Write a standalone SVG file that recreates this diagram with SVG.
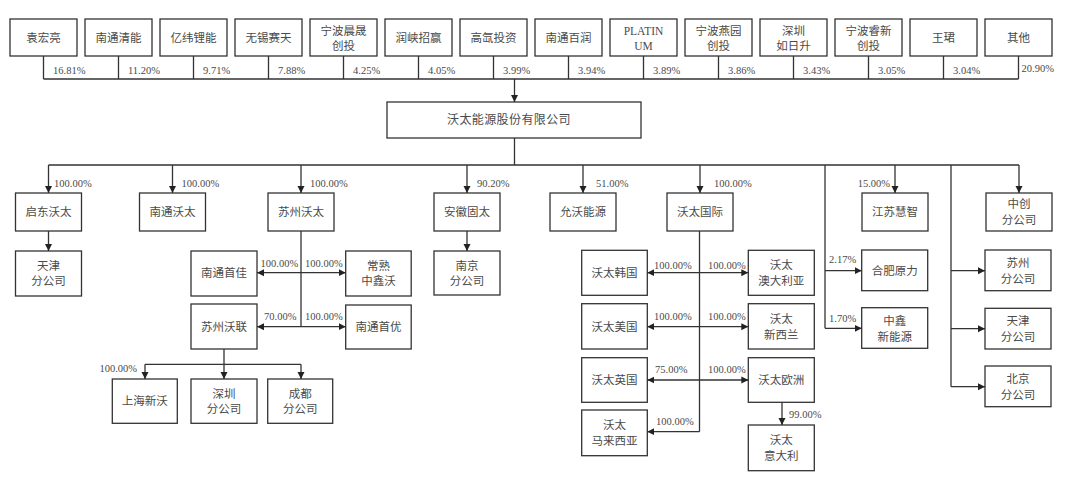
<svg xmlns="http://www.w3.org/2000/svg" width="1080" height="485" viewBox="0 0 1080 485">
<style>
.b{fill:#fff;stroke:#333;stroke-width:1.3}
.t{font-family:"Liberation Serif","Noto Sans CJK SC",serif;font-size:11.5px;fill:#4a4a4a;text-anchor:middle;dominant-baseline:central}
.p{font-family:"Liberation Serif","Noto Sans CJK SC",serif;font-size:10.5px;fill:#4a4a4a;dominant-baseline:central}
.l{fill:none;stroke:#333;stroke-width:1.3}
.a{marker-end:url(#ah)}
.d{marker-end:url(#ah);marker-start:url(#ah)}
</style>
<defs>
<marker id="ah" viewBox="0 0 10 10" refX="10" refY="5" markerWidth="7" markerHeight="8" orient="auto-start-reverse" markerUnits="userSpaceOnUse"><path d="M0,0 L10,5 L0,10 z" fill="#222"/></marker>
</defs>
<rect width="1080" height="485" fill="#fff"/>

<g id="shareholders">
<g id="s0"><rect class="b" x="10" y="19" width="67" height="37"/><text class="t" x="43.5" y="38">袁宏亮</text></g>
<g id="s1"><rect class="b" x="85" y="19" width="67" height="37"/><text class="t" x="118.5" y="38">南通清能</text></g>
<g id="s2"><rect class="b" x="160" y="19" width="67" height="37"/><text class="t" x="193.5" y="38">亿纬锂能</text></g>
<g id="s3"><rect class="b" x="235" y="19" width="67" height="37"/><text class="t" x="268.5" y="38">无锡赛天</text></g>
<g id="s4"><rect class="b" x="310" y="19" width="67" height="37"/><text class="t" x="343.5" y="31">宁波晨晟</text><text class="t" x="343.5" y="46">创投</text></g>
<g id="s5"><rect class="b" x="385" y="19" width="67" height="37"/><text class="t" x="418.5" y="38">润峡招赢</text></g>
<g id="s6"><rect class="b" x="460" y="19" width="67" height="37"/><text class="t" x="493.5" y="38">高氙投资</text></g>
<g id="s7"><rect class="b" x="535" y="19" width="67" height="37"/><text class="t" x="568.5" y="38">南通百润</text></g>
<g id="s8"><rect class="b" x="610" y="19" width="67" height="37"/><text class="t" x="643.5" y="31">PLATIN</text><text class="t" x="643.5" y="46">UM</text></g>
<g id="s9"><rect class="b" x="685" y="19" width="67" height="37"/><text class="t" x="718.5" y="31">宁波燕园</text><text class="t" x="718.5" y="46">创投</text></g>
<g id="s10"><rect class="b" x="760" y="19" width="67" height="37"/><text class="t" x="793.5" y="31">深圳</text><text class="t" x="793.5" y="46">如日升</text></g>
<g id="s11"><rect class="b" x="835" y="19" width="67" height="37"/><text class="t" x="868.5" y="31">宁波睿新</text><text class="t" x="868.5" y="46">创投</text></g>
<g id="s12"><rect class="b" x="910" y="19" width="67" height="37"/><text class="t" x="943.5" y="38">王珺</text></g>
<g id="s13"><rect class="b" x="985" y="19" width="67" height="37"/><text class="t" x="1018.5" y="38">其他</text></g>
</g>

<g id="main"><rect class="b" x="387" y="102" width="254" height="36"/><text class="t" x="509" y="120" style="font-size:12px;letter-spacing:0.4px">沃太能源股份有限公司</text></g>

<g id="n-qidong"><rect class="b" x="15.5" y="193" width="66" height="38"/><text class="t" x="48.5" y="212">启东沃太</text></g>
<g id="n-nantongwotai"><rect class="b" x="139.5" y="193" width="66" height="38"/><text class="t" x="172.5" y="212">南通沃太</text></g>
<g id="n-suzhouwotai"><rect class="b" x="268" y="193" width="66" height="38"/><text class="t" x="301" y="212">苏州沃太</text></g>
<g id="n-anhui"><rect class="b" x="434" y="193" width="66" height="38"/><text class="t" x="467" y="212">安徽固太</text></g>
<g id="n-yunwo"><rect class="b" x="550" y="193" width="66" height="38"/><text class="t" x="583" y="212">允沃能源</text></g>
<g id="n-intl"><rect class="b" x="667" y="193" width="66" height="38"/><text class="t" x="700" y="212">沃太国际</text></g>
<g id="n-jiangsu"><rect class="b" x="862" y="193" width="66" height="38"/><text class="t" x="895" y="212">江苏慧智</text></g>
<g id="n-zhongchuang"><rect class="b" x="986" y="193" width="66" height="38"/><text class="t" x="1019" y="204">中创</text><text class="t" x="1019" y="220">分公司</text></g>

<g id="n-tianjin1"><rect class="b" x="15.5" y="251" width="66" height="45"/><text class="t" x="48.5" y="266">天津</text><text class="t" x="48.5" y="281">分公司</text></g>
<g id="n-nantongshoujia"><rect class="b" x="191" y="251" width="66" height="45"/><text class="t" x="224" y="273">南通首佳</text></g>
<g id="n-changshu"><rect class="b" x="345.7" y="251" width="65.5" height="45"/><text class="t" x="378.5" y="266">常熟</text><text class="t" x="378.5" y="281">中鑫沃</text></g>
<g id="n-suzhouwolian"><rect class="b" x="191" y="304" width="66" height="45"/><text class="t" x="224" y="327">苏州沃联</text></g>
<g id="n-nantongshouyou"><rect class="b" x="345.7" y="305" width="65.5" height="44"/><text class="t" x="378.5" y="327">南通首优</text></g>
<g id="n-shanghai"><rect class="b" x="112.3" y="379" width="65" height="44.3"/><text class="t" x="144.8" y="401">上海新沃</text></g>
<g id="n-shenzhen"><rect class="b" x="191" y="379" width="66" height="44.3"/><text class="t" x="224" y="394">深圳</text><text class="t" x="224" y="409">分公司</text></g>
<g id="n-chengdu"><rect class="b" x="267.7" y="379" width="65" height="44.3"/><text class="t" x="300.2" y="394">成都</text><text class="t" x="300.2" y="409">分公司</text></g>
<g id="n-nanjing"><rect class="b" x="434" y="251" width="66" height="44"/><text class="t" x="467" y="266">南京</text><text class="t" x="467" y="281">分公司</text></g>

<g id="n-korea"><rect class="b" x="581.7" y="250.3" width="65.6" height="45"/><text class="t" x="614.5" y="273">沃太韩国</text></g>
<g id="n-australia"><rect class="b" x="748.3" y="250.3" width="66" height="45"/><text class="t" x="781.3" y="265">沃太</text><text class="t" x="781.3" y="281">澳大利亚</text></g>
<g id="n-usa"><rect class="b" x="581.7" y="303.7" width="65.6" height="45.3"/><text class="t" x="614.5" y="327">沃太美国</text></g>
<g id="n-nz"><rect class="b" x="748.3" y="303.7" width="66" height="45.3"/><text class="t" x="781.3" y="319">沃太</text><text class="t" x="781.3" y="335">新西兰</text></g>
<g id="n-uk"><rect class="b" x="581.7" y="357.7" width="65.6" height="44.6"/><text class="t" x="614.5" y="380">沃太英国</text></g>
<g id="n-europe"><rect class="b" x="748.3" y="357.7" width="66" height="44.6"/><text class="t" x="781.3" y="380">沃太欧洲</text></g>
<g id="n-malaysia"><rect class="b" x="581.7" y="410" width="65.6" height="45.7"/><text class="t" x="614.5" y="425">沃太</text><text class="t" x="614.5" y="441">马来西亚</text></g>
<g id="n-italy"><rect class="b" x="748.3" y="425" width="66" height="45.7"/><text class="t" x="781.3" y="440">沃太</text><text class="t" x="781.3" y="456">意大利</text></g>

<g id="n-hefei"><rect class="b" x="861.7" y="250" width="66" height="40.7"/><text class="t" x="894.7" y="271">合肥原力</text></g>
<g id="n-zhongxin"><rect class="b" x="861.7" y="307.7" width="66" height="40.6"/><text class="t" x="894.7" y="321">中鑫</text><text class="t" x="894.7" y="337">新能源</text></g>
<g id="n-suzhoubr"><rect class="b" x="985" y="250" width="66" height="40.7"/><text class="t" x="1018" y="263">苏州</text><text class="t" x="1018" y="279">分公司</text></g>
<g id="n-tianjinbr"><rect class="b" x="985" y="308.3" width="66" height="40.7"/><text class="t" x="1018" y="321">天津</text><text class="t" x="1018" y="337">分公司</text></g>
<g id="n-beijingbr"><rect class="b" x="985" y="366" width="66" height="40.7"/><text class="t" x="1018" y="379">北京</text><text class="t" x="1018" y="395">分公司</text></g>

<g id="connectors">
<path class="l" d="M43.5,56V79M118.5,56V79M193.5,56V79M268.5,56V79M343.5,56V79M418.5,56V79M493.5,56V79M568.5,56V79M643.5,56V79M718.5,56V79M793.5,56V79M868.5,56V79M943.5,56V79M1018.5,56V79M43.5,79H1018.5"/>
<path class="l a" d="M514.5,79V102"/>
<path class="l" d="M514.5,138V165M48.5,165H1019"/>
<path class="l a" d="M48.5,165V193"/>
<path class="l a" d="M172.5,165V193"/>
<path class="l a" d="M301,165V193"/>
<path class="l a" d="M467,165V193"/>
<path class="l a" d="M583,165V193"/>
<path class="l a" d="M700,165V193"/>
<path class="l a" d="M895,165V193"/>
<path class="l a" d="M1019,165V193"/>
<path class="l a" d="M48.5,231V251"/>
<path class="l" d="M301,231V326.7"/>
<path class="l d" d="M257,272.7H345.7"/>
<path class="l d" d="M257,326.7H345.7"/>
<path class="l" d="M224,349V364.3M145,364.3H301"/>
<path class="l a" d="M145,364.3V379"/>
<path class="l a" d="M224,364.3V379"/>
<path class="l a" d="M301,364.3V379"/>
<path class="l a" d="M467,231V251"/>
<path class="l" d="M699.5,231V431.7"/>
<path class="l d" d="M647.3,272.7H748.3"/>
<path class="l d" d="M647.3,326.7H748.3"/>
<path class="l d" d="M647.3,380H748.3"/>
<path class="l a" d="M699.5,431.7H647.3"/>
<path class="l a" d="M782,402.3V425"/>
<path class="l" d="M825,165V328.3"/>
<path class="l a" d="M825,270.7H861.7"/>
<path class="l a" d="M825,328.3H861.7"/>
<path class="l" d="M951,165V386.7"/>
<path class="l a" d="M951,270.7H985"/>
<path class="l a" d="M951,328.7H985"/>
<path class="l a" d="M951,386.7H985"/>
</g>

<g id="labels">
<text class="p" x="53" y="70">16.81%</text>
<text class="p" x="128" y="70">11.20%</text>
<text class="p" x="203" y="70">9.71%</text>
<text class="p" x="278" y="70">7.88%</text>
<text class="p" x="353" y="70">4.25%</text>
<text class="p" x="428" y="70">4.05%</text>
<text class="p" x="503" y="70">3.99%</text>
<text class="p" x="578" y="70">3.94%</text>
<text class="p" x="653" y="70">3.89%</text>
<text class="p" x="728" y="70">3.86%</text>
<text class="p" x="803" y="70">3.43%</text>
<text class="p" x="878" y="70">3.05%</text>
<text class="p" x="953" y="70">3.04%</text>
<text class="p" x="1021.5" y="68">20.90%</text>
<text class="p" x="54" y="183.7">100.00%</text>
<text class="p" x="181.5" y="183.7">100.00%</text>
<text class="p" x="310" y="183.7">100.00%</text>
<text class="p" x="477" y="183.7">90.20%</text>
<text class="p" x="596" y="183.7">51.00%</text>
<text class="p" x="714" y="183.7">100.00%</text>
<text class="p" x="890" y="183.7" text-anchor="end">15.00%</text>
<text class="p" x="260.5" y="263.5">100.00%</text>
<text class="p" x="305" y="263.5">100.00%</text>
<text class="p" x="264" y="316">70.00%</text>
<text class="p" x="305" y="316">100.00%</text>
<text class="p" x="137" y="368.3" text-anchor="end">100.00%</text>
<text class="p" x="654" y="265">100.00%</text>
<text class="p" x="708" y="265">100.00%</text>
<text class="p" x="654" y="316.7">100.00%</text>
<text class="p" x="708" y="316.7">100.00%</text>
<text class="p" x="655" y="369.3">75.00%</text>
<text class="p" x="708" y="369.3">100.00%</text>
<text class="p" x="656" y="421.7">100.00%</text>
<text class="p" x="789" y="414.3">99.00%</text>
<text class="p" x="829" y="259.3">2.17%</text>
<text class="p" x="829" y="318.3">1.70%</text>
</g>
</svg>
